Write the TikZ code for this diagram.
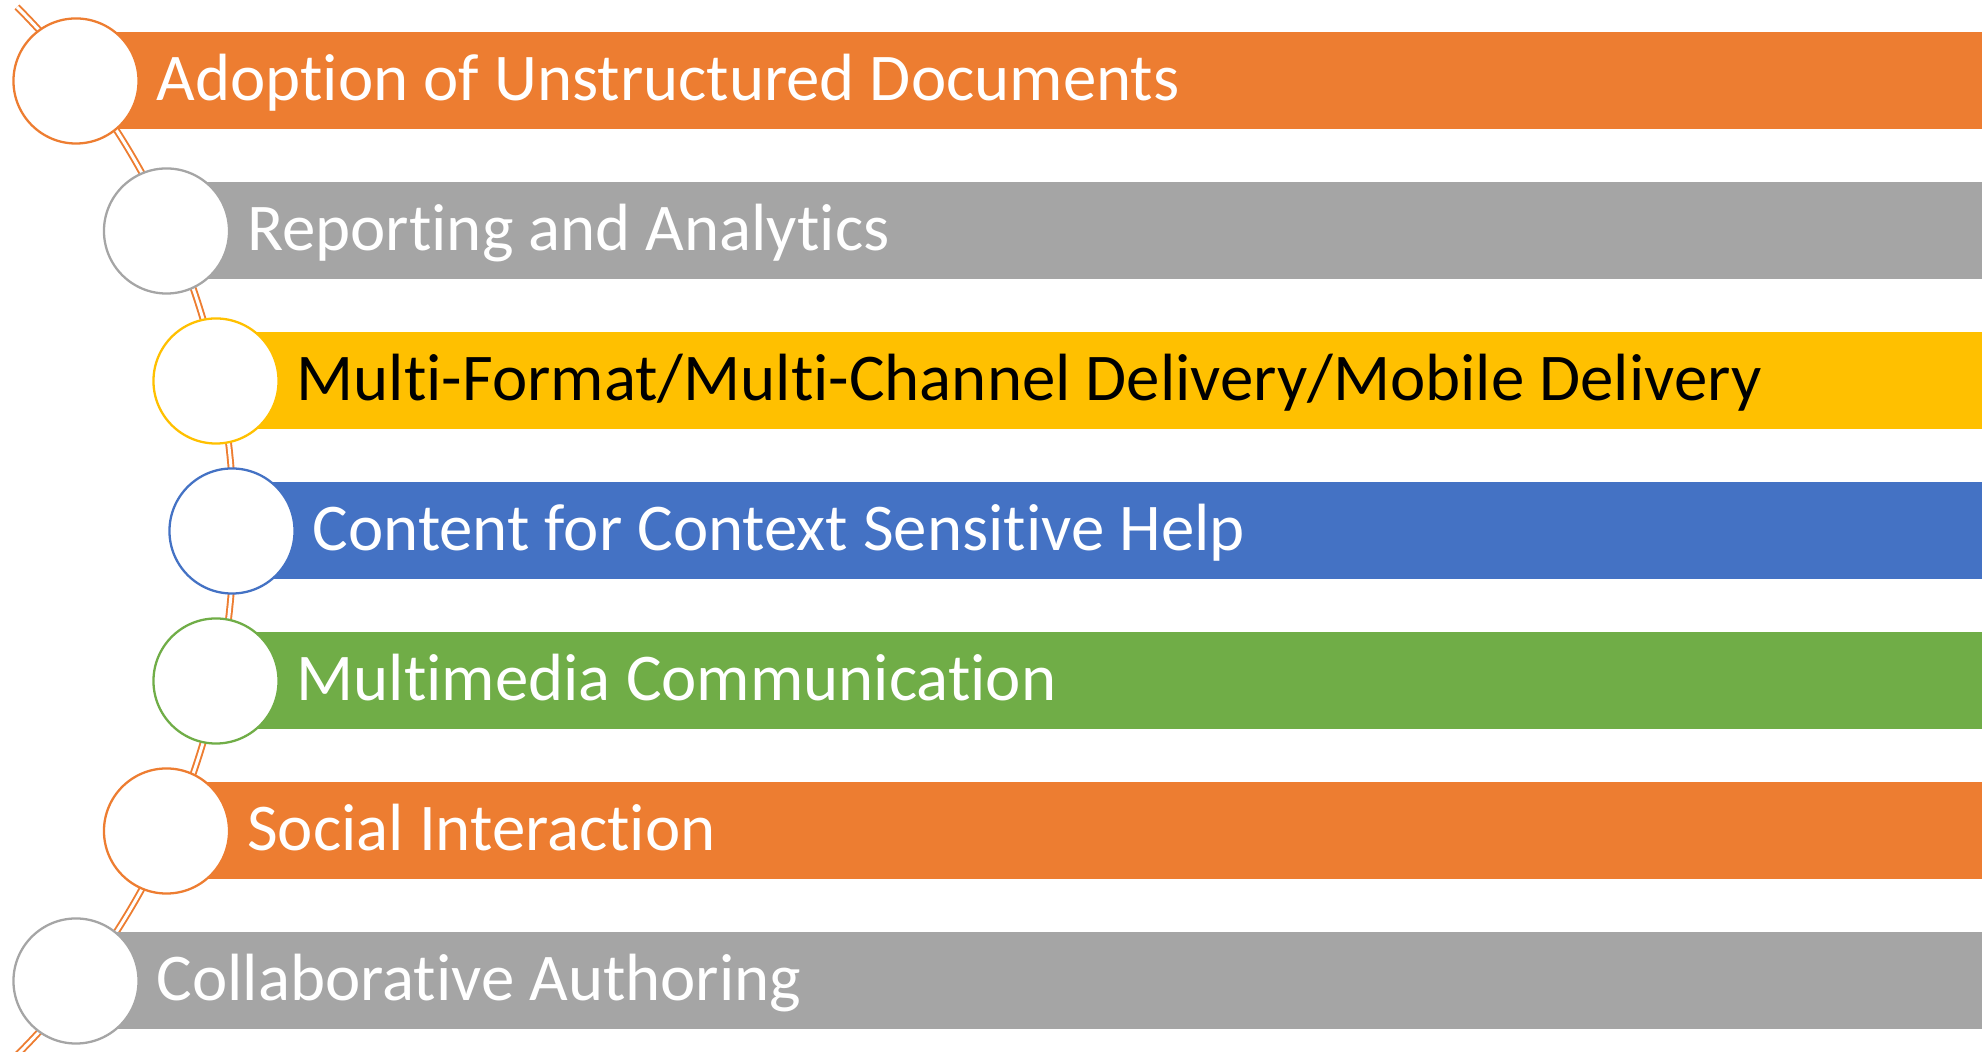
\documentclass[tikz,border=0pt]{standalone}
\usepackage{fontspec}
\setmainfont{Carlito}[Ligatures={NoCommon,NoRequired}]
\definecolor{barOrange}{HTML}{ED7D31}
\definecolor{barGray}{HTML}{A5A5A5}
\definecolor{barGold}{HTML}{FFC000}
\definecolor{barBlue}{HTML}{4472C4}
\definecolor{barGreen}{HTML}{70AD47}
\begin{document}
\begin{tikzpicture}[x=0.01cm,y=0.01cm,
  link/.style={draw=barOrange,line width=0.55pt,double=white,double distance=0.85pt},
  ring/.style={draw=#1,fill=white,circle,line width=0.65pt,minimum size=1.25cm,inner sep=0pt},
  lbl/.style={anchor=base west,inner sep=0pt,text=#1,font=\fontsize{19}{23}\selectfont},
  lbl/.default=white]
\useasboundingbox (0,0) rectangle (1982,1052);

\coordinate (top) at (17,1045);
\coordinate (bot) at (17,-3);
\coordinate (c1) at (76,971);
\coordinate (c2) at (166.5,821);
\coordinate (c3) at (216,671);
\coordinate (c4) at (232,521);
\coordinate (c5) at (216,371);
\coordinate (c6) at (166.5,221);
\coordinate (c7) at (76,71);

% spine behind the circles
\draw[link] (top) to[out=-45,in=45] (bot);

% bars
\fill[barOrange] (76,922.5) rectangle (1982,1019.5);
\fill[barGray] (166.5,772.5) rectangle (1982,869.5);
\fill[barGold] (216,622.5) rectangle (1982,719.5);
\fill[barBlue] (232,472.5) rectangle (1982,569.5);
\fill[barGreen] (216,322.5) rectangle (1982,419.5);
\fill[barOrange] (166.5,172.5) rectangle (1982,269.5);
\fill[barGray] (76,22.5) rectangle (1982,119.5);

\node[ring=barOrange] (r1) at (c1){};
\node[ring=barGray] (r2) at (c2){};
\node[ring=barGold] (r3) at (c3){};
\node[ring=barBlue] (r4) at (c4){};
\node[ring=barGreen] (r5) at (c5){};
\node[ring=barOrange] (r6) at (c6){};
\node[ring=barGray] (r7) at (c7){};

\node[lbl] (adopt) at (156,951.5){Adoption of Unstructured Documents};
\node[lbl] (report) at (246.5,801.5){Reporting and Analytics};
\node[lbl=black] (deliv) at (296,651.5){Multi-Format/Multi-Channel Delivery/Mobile Delivery};
\node[lbl] (help) at (312,501.5){Content for Context Sensitive Help};
\node[lbl] (media) at (296,351.5){Multimedia Communication};
\node[lbl] (social) at (246.5,201.5){Social Interaction};
\node[lbl] (collab) at (156,51.5){Collaborative Authoring};

\end{tikzpicture}
\end{document}
